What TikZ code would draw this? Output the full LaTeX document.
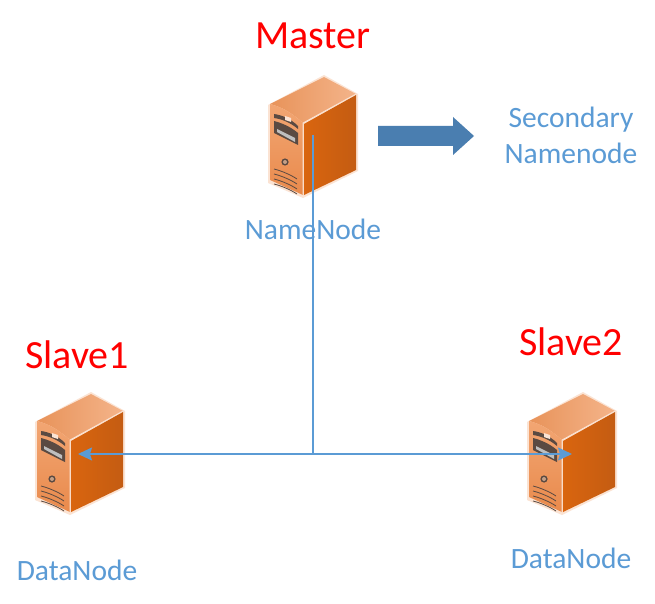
\documentclass[tikz,border=0pt]{standalone}
\usepackage{fontspec}
\setmainfont{Carlito}
\usetikzlibrary{arrows.meta}
\definecolor{lab}{HTML}{5B9BD5}
\definecolor{lin}{HTML}{5B9BD5}
\definecolor{arr}{HTML}{4A7EB0}
\definecolor{topa}{HTML}{E8935A}
\definecolor{topb}{HTML}{F4B48A}
\definecolor{fronta}{HTML}{F2A673}
\definecolor{frontb}{HTML}{E98A4C}
\definecolor{sidea}{HTML}{D9650F}
\definecolor{sideb}{HTML}{C45C12}
\definecolor{dk}{HTML}{5A4A42}
\definecolor{edge}{HTML}{FBE3D3}
\tikzset{
 title/.style={text=red,font=\fontsize{40}{44}\selectfont,inner sep=0pt},
 sub/.style={text=lab,font=\fontsize{29.5}{32}\selectfont,inner sep=0pt},
 conn/.style={draw=lin,line width=1.7pt},
 tip/.style={-{Stealth[length=14pt,width=13pt,inset=2pt]}},
 pics/server/.style={code={
  \fill[edge] (-56,28) -- (0,-2) -- (34,17) -- (34,94) -- (-21,121) -- (-56,106) -- cycle;
  \shade[left color=topa,right color=topb] (-54,27) -- (0,0) -- (32,17) -- (-21,46) .. controls (-32,36) and (-42,30) .. cycle;
  \shade[top color=fronta,bottom color=frontb] (-54,27) .. controls (-42,30) and (-32,36) .. (-21,46) -- (-21,118) -- (-54,103) -- cycle;
  \shade[left color=sidea,right color=sideb] (-20,47) -- (32,18) -- (32,93) -- (-20,118) -- cycle;
  \draw[edge,line width=.8pt] (-21,46) -- (32,17) (-21,46) -- (-21,118);
  \fill[dk] (-50,37) .. controls (-42,38) and (-33,42) .. (-26,49) -- (-26,52) .. controls (-33,46) and (-42,42) .. (-50,41) -- cycle;
  \fill[edge] (-39,39) -- (-33,41) -- (-33,45) -- (-39,43) -- cycle;
  \fill[dk] (-50,44) .. controls (-42,46) and (-33,50) .. (-26,56) -- (-26,68) -- (-50,56) -- cycle;
  \fill[black!25!white] (-47,52) -- (-29,61) -- (-29,65) -- (-47,55) -- cycle;
  \fill[dk] (-39,85) circle (3.6);
  \fill[topb!60!gray] (-39,85) circle (2);
  \foreach \i in {0,5,10,15}{\draw[dk,line width=.8pt] (-50,92+\i) .. controls (-42,94+\i) and (-33,98+\i) .. (-27,102+\i);}
 }}
}
\begin{document}
\begin{tikzpicture}[x=1pt,y=-1pt]
\useasboundingbox (0,0) rectangle (655,604);
\fill[white] (0,0) rectangle (655,604);
\pic at (324,77) {server};
\pic at (91,394) {server};
\pic at (583,394) {server};
\node[title] (master) at (313,36) {Master};
\node[title] (slaveone) at (77,355) {Slave1};
\node[title] (slavetwo) at (571,342) {Slave2};
\node[sub] (nn) at (313,229) {NameNode};
\node[sub] (dn1) at (77,570) {DataNode};
\node[sub] (dn2) at (571,558) {DataNode};
\node[sub,align=center,font=\fontsize{29.5}{36}\selectfont] (sec) at (571,135) {Secondary\\Namenode};
\fill[arr] (378,126) -- (453,126) -- (453,117) -- (474,136) -- (453,155) -- (453,146) -- (378,146) -- cycle;
\coordinate (mc) at (313,135);
\coordinate (j) at (313,454);
\coordinate (lc) at (78,454);
\coordinate (rc) at (572,454);
\draw[conn] (mc) -- (j);
\draw[conn,tip] (j) -- (lc);
\draw[conn,tip] (j) -- (rc);
\end{tikzpicture}
\end{document}
